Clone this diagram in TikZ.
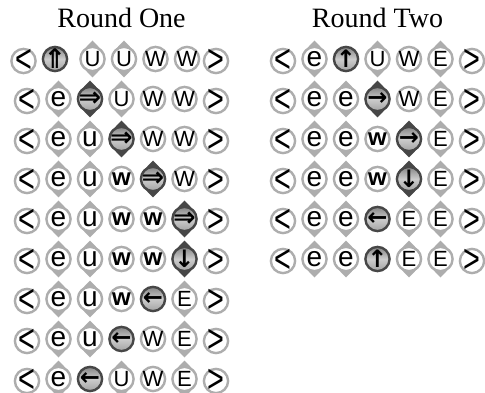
\documentclass[tikz,border=0pt]{standalone}
\usepackage{fontspec}
\setmainfont{Liberation Serif}
\newfontfamily\tokfont{Liberation Sans}
\newfontfamily\arrfont{DejaVu Sans}
\usepackage{tikz}
\definecolor{ringc}{gray}{0.68}
\definecolor{actc}{gray}{0.28}
\definecolor{acttop}{gray}{0.52}
\definecolor{actmid}{gray}{0.80}
\definecolor{actbot}{gray}{0.64}
% glyph centred on the node centre, with no size of its own
\newcommand{\ctrbox}[1]{\makebox[0pt]{\smash{\raisebox{\dimexpr.5\depth-.5\height\relax}{#1}}}}

\begin{document}
\begin{tikzpicture}[x=1pt,y=-1pt,
  tk/.style={circle,draw=ringc,line width=2.4pt,fill=white,minimum size=24.2pt,inner sep=0pt},
  act/.style={tk,draw=actc,top color=acttop,bottom color=actbot,middle color=actmid},
  upc/.style={font=\tokfont\fontsize{22}{22}\selectfont},
  lowc/.style={font=\tokfont\fontsize{28}{28}\selectfont},
  boldc/.style={font=\tokfont\bfseries\fontsize{24}{24}\selectfont},
  edgec/.style={font=\tokfont\fontsize{30}{30}\selectfont,yshift=-2pt},
  arrc/.style={font=\arrfont\bfseries\fontsize{24}{24}\selectfont},
  darrc/.style={font=\arrfont\bfseries\fontsize{27}{27}\selectfont},
  tkL/.style={tk,edgec,node contents=\ctrbox{\scalebox{.96}[1.33]{<}}},
  tkR/.style={tk,edgec,node contents=\ctrbox{\scalebox{.96}[1.33]{>}}},
  tkU/.style={tk,upc,node contents=\ctrbox{U}},
  tkW/.style={tk,upc,node contents=\ctrbox{W}},
  tkE/.style={tk,upc,node contents=\ctrbox{E}},
  tke/.style={tk,lowc,node contents=\ctrbox{e}},
  tku/.style={tk,lowc,node contents=\ctrbox{u}},
  tkw/.style={tk,boldc,node contents=\ctrbox{w}},
  tkdup/.style={act,darrc,node contents=\ctrbox{⇑}},
  tkdrt/.style={act,darrc,node contents=\ctrbox{⇒}},
  tkup/.style={act,arrc,node contents=\ctrbox{↑}},
  tkrt/.style={act,arrc,node contents=\ctrbox{→}},
  tkdn/.style={act,arrc,node contents=\ctrbox{↓}},
  tklt/.style={act,arrc,node contents=\ctrbox{←}},
  tips/.pic={\fill (-11.5,-6.5) -- (0,-18.5) -- (11.5,-6.5) -- cycle
                   (-11.5,6.5) -- (0,18.5) -- (11.5,6.5) -- cycle;}]
  \useasboundingbox (0,0) rectangle (485,393);
  % titles
  \node[font=\fontsize{28}{30}\selectfont,anchor=base] (titleA) at (121.5,28) {Round One};
  \node[font=\fontsize{28}{30}\selectfont,anchor=base] (titleB) at (377.5,28) {Round Two};
  % round one: token / tips (0 none, 1 light, 2 dark)
  \foreach \r/\cells in {
      1/{L/0,dup/0,U/1,U/1,W/0,W/0,R/0},
      2/{L/0,e/1,drt/2,U/1,W/0,W/0,R/0},
      3/{L/0,e/1,u/1,drt/2,W/0,W/0,R/0},
      4/{L/0,e/1,u/1,w/0,drt/2,W/0,R/0},
      5/{L/0,e/1,u/1,w/0,w/0,drt/2,R/0},
      6/{L/0,e/1,u/1,w/0,w/0,dn/2,R/0},
      7/{L/0,e/1,u/1,w/0,lt/0,E/1,R/0},
      8/{L/0,e/1,u/1,lt/0,W/0,E/1,R/0},
      9/{L/0,e/1,lt/0,U/1,W/0,E/1,R/0}} {
    \foreach \tok/\tp [count=\col] in \cells {
      \pgfmathsetmacro{\xx}{27+31.5*(\col-1)+(\r==1)*((\col<3)*(-3.5)+(\col>2)*(\col<7)*2.5)}
      \pgfmathsetmacro{\yy}{59+40*(\r-1)}
      \ifcase\tp\or\pic[color=ringc] at (\xx,\yy) {tips};\or\pic[color=actc] at (\xx,\yy) {tips};\fi
      \node (A\r-\col) at (\xx,\yy) [tk\tok];
    }
  }
  % round two
  \foreach \r/\cells in {
      1/{L/0,e/1,up/0,U/1,W/0,E/1,R/0},
      2/{L/0,e/1,e/1,rt/2,W/0,E/1,R/0},
      3/{L/0,e/1,e/1,w/0,rt/2,E/1,R/0},
      4/{L/0,e/1,e/1,w/0,dn/2,E/1,R/0},
      5/{L/0,e/1,e/1,lt/0,E/1,E/1,R/0},
      6/{L/0,e/1,e/1,up/0,E/1,E/1,R/0}} {
    \foreach \tok/\tp [count=\col] in \cells {
      \pgfmathsetmacro{\xx}{283+31.5*(\col-1)}
      \pgfmathsetmacro{\yy}{59+40*(\r-1)}
      \ifcase\tp\or\pic[color=ringc] at (\xx,\yy) {tips};\or\pic[color=actc] at (\xx,\yy) {tips};\fi
      \node (B\r-\col) at (\xx,\yy) [tk\tok];
    }
  }
\end{tikzpicture}
\end{document}
